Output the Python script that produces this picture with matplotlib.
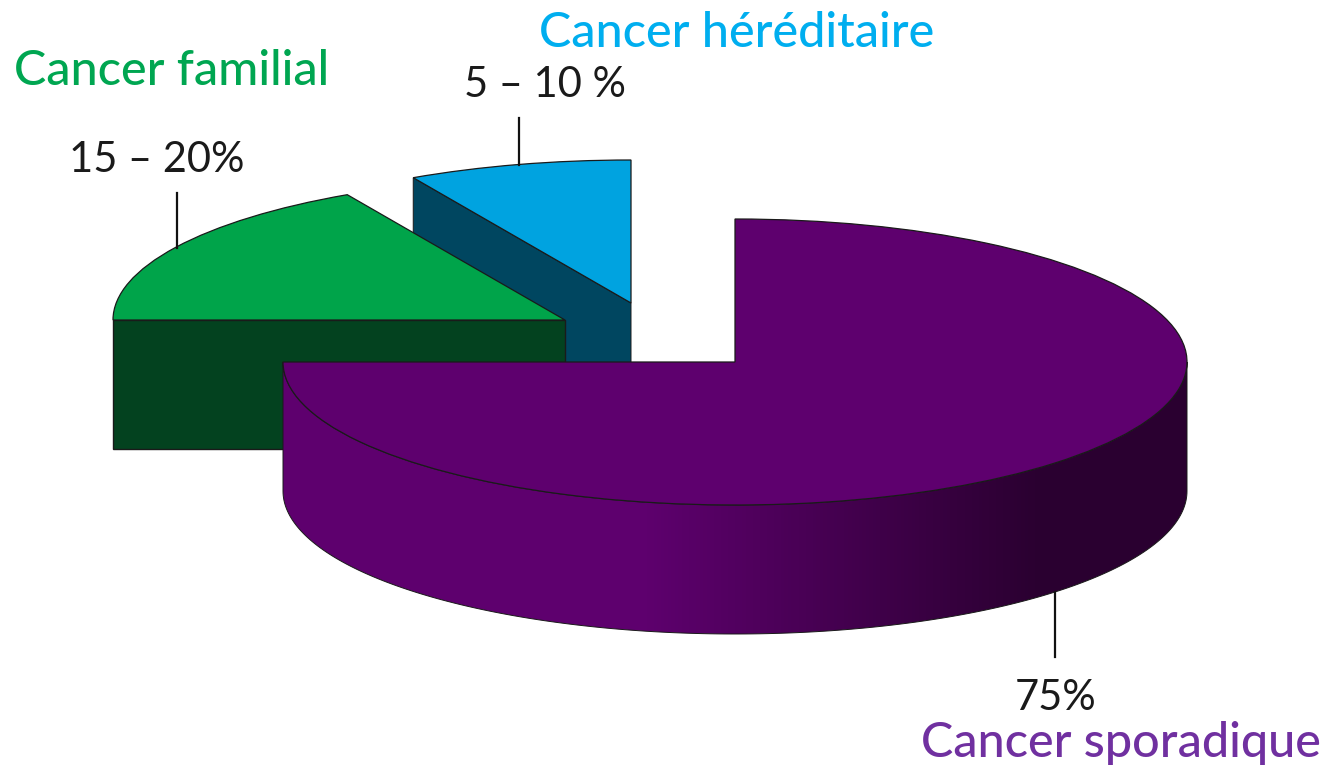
import numpy as np
import matplotlib
matplotlib.use("Agg")
import matplotlib.pyplot as plt
from matplotlib.colors import LinearSegmentedColormap
from matplotlib.patches import Wedge, Polygon
from matplotlib.transforms import Affine2D

W, H = 1327, 768

# data
categories = ["Cancer sporadique", "Cancer familial", "Cancer héréditaire"]
shares = [75, 17, 8]
percent_labels = ["75%", "15 – 20%", "5 – 10 %"]

# layout (pixels from top left of the image)
rx, ry, depth = 452, 143, 129
centers = [(735, 362), (565, 320), (631, 303)]
top_colors = ["#5e006e", "#00a44a", "#00a3e0"]
wall_colors = ["#5e006e", "#03421f", "#004660"]
text_colors = ["#7030a0", "#00a651", "#00aeef"]
name_pos = [(921, 757), (14, 85), (539, 47)]
pct_pos = [(1056, 710), (157, 172), (545, 97)]
leaders = [(1055, 592, 657), (177, 193, 248), (519, 118, 165)]

fig = plt.figure(figsize=(W / 100, H / 100), dpi=100)
ax = fig.add_axes([0, 0, 1, 1])


def rim(cx, cy, theta, drop=0):
    t = np.radians(theta)
    return np.column_stack([cx + rx * np.cos(t), H - cy + ry * np.sin(t) - drop])


def top_face(cx, cy, a, b, color):
    tr = Affine2D().scale(rx, ry).translate(cx, H - cy) + ax.transData
    ax.add_patch(Wedge((0, 0), 1, a, b, transform=tr, fc=color, ec="#1a1a1a", lw=0.9, zorder=z()))


order = [0]


def z():
    order[0] += 1
    return order[0]


# slices run clockwise from 12 o'clock: sporadic, familial, hereditary
sweep = np.array(shares) * 3.6
spor_end = 90 - sweep[0]
fam_a, fam_b = 180 - sweep[1], 180
her_a, her_b = 90, 90 + sweep[2]

# hereditary: cut wall then top
cx, cy = centers[2]
p = rim(cx, cy, np.array([her_b]))[0]
apex = np.array([cx, H - cy])
ax.add_patch(Polygon([apex, p, p - [0, depth], apex - [0, depth]], fc=wall_colors[2], ec="#1a1a1a", lw=0.7, zorder=z()))
top_face(cx, cy, her_a, her_b, top_colors[2])

# familial: front wall then top
cx, cy = centers[1]
p = rim(cx, cy, np.array([fam_b]))[0]
apex = np.array([cx, H - cy])
ax.add_patch(Polygon([apex, p, p - [0, depth], apex - [0, depth]], fc=wall_colors[1], ec="#1a1a1a", lw=1.0, zorder=z()))
top_face(cx, cy, fam_a, fam_b, top_colors[1])

# sporadic: shaded outer wall then top
cx, cy = centers[0]
theta = np.linspace(180, 360, 200)
wall = np.vstack([rim(cx, cy, theta), rim(cx, cy, theta[::-1], depth)])
outline = Polygon(wall, fc="none", ec="#1a1a1a", lw=0.7, zorder=z() + 1)
shade = LinearSegmentedColormap.from_list("wall", [(0, "#5e006e"), (0.4, "#5e006e"), (0.84, "#2a0030"), (1, "#2a0030")])
im = ax.imshow(np.linspace(0, 1, 256)[None, :], extent=[cx - rx, cx + rx, H - cy - ry - depth, H - cy],
               cmap=shade, aspect="auto", zorder=order[0])
z()
ax.add_patch(outline)
im.set_clip_path(outline)
top_face(cx, cy, spor_end, 90, top_colors[0])

for x, y0, y1 in leaders:
    ax.plot([x, x], [H - y0, H - y1], color="#111111", lw=1.6, zorder=z())

for name, pos, c in zip(categories, name_pos, text_colors):
    ax.text(pos[0], H - pos[1], name, color=c, fontsize=35, family=["Lato", "DejaVu Sans"], weight="medium",
            ha="left", va="baseline")

for label, pos in zip(percent_labels, pct_pos):
    ax.text(pos[0], H - pos[1], label, color="#1a1a1a", fontsize=30, family=["Lato", "DejaVu Sans"],
            ha="center", va="baseline")

ax.set_xlim(0, W)
ax.set_ylim(0, H)
ax.axis("off")
fig.savefig("out.png", dpi=100, facecolor="white")
